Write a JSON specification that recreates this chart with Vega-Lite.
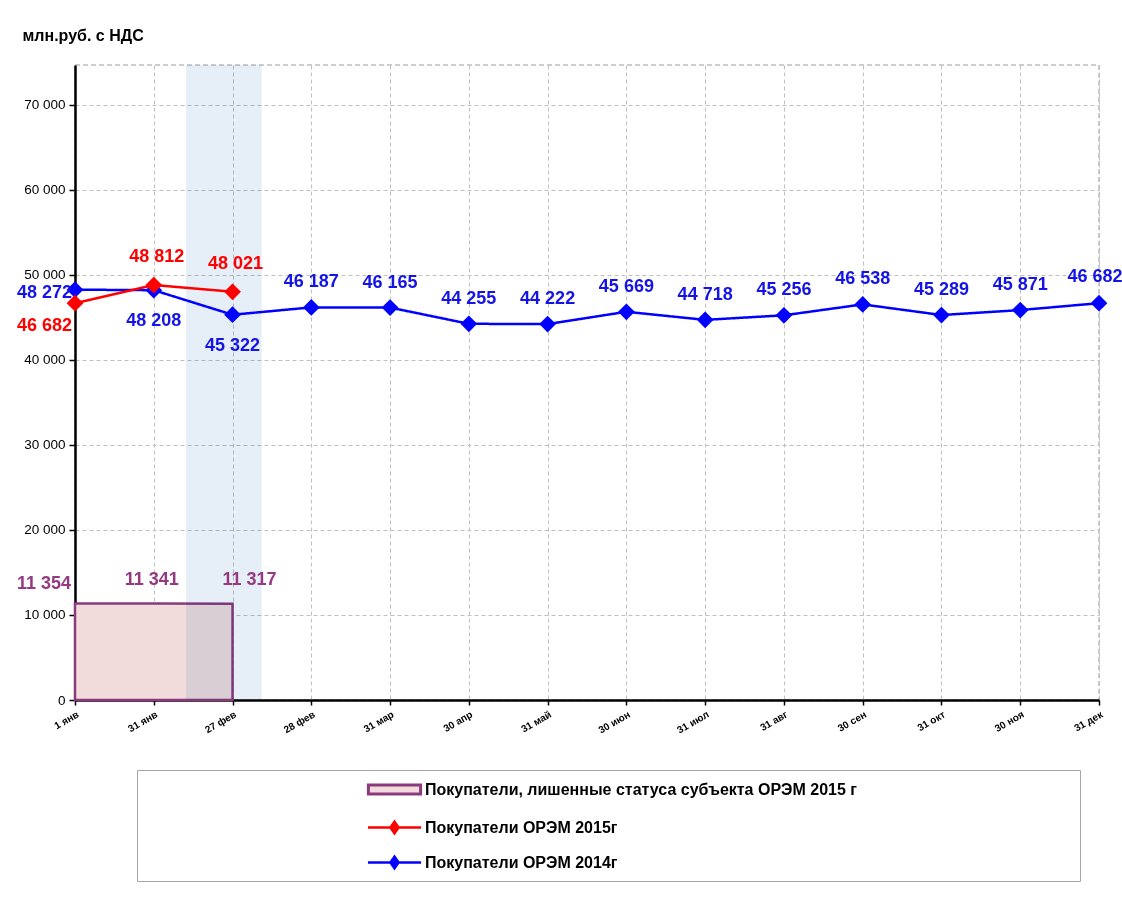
{
  "$schema": "https://vega.github.io/schema/vega-lite/v6.json",
  "width": 1024,
  "height": 635,
  "autosize": {"type": "none"},
  "padding": {"left": 75, "top": 65, "right": 23, "bottom": 202},
  "background": "white",
  "config": {
    "locale": {"number": {"decimal": ",", "thousands": " ", "grouping": [3], "currency": ["", ""]}},
    "view": {"stroke": "#bdbdbd", "strokeDash": [5, 3], "strokeWidth": 1.5},
    "axis": {"gridColor": "#c0c0c0", "gridDash": [4, 3], "gridWidth": 1, "domainColor": "black", "domainWidth": 2.5, "tickColor": "black", "tickWidth": 1.5},
    "legend": {
      "title": null, "orient": "none", "padding": 9, "symbolSize": 324, "symbolOffset": 238, "labelOffset": 20,
      "labelFont": "Liberation Sans", "labelFontWeight": "bold", "labelFontSize": 16, "labelColor": "black", "labelLimit": 600,
      "symbolOpacity": 1
    }
  },
  "datasets": {
    "s2014": [
      {"i": 0, "v": 48272, "series": "Покупатели ОРЭМ 2014г"},
      {"i": 1, "v": 48208, "series": "Покупатели ОРЭМ 2014г"},
      {"i": 2, "v": 45322, "series": "Покупатели ОРЭМ 2014г"},
      {"i": 3, "v": 46187, "series": "Покупатели ОРЭМ 2014г"},
      {"i": 4, "v": 46165, "series": "Покупатели ОРЭМ 2014г"},
      {"i": 5, "v": 44255, "series": "Покупатели ОРЭМ 2014г"},
      {"i": 6, "v": 44222, "series": "Покупатели ОРЭМ 2014г"},
      {"i": 7, "v": 45669, "series": "Покупатели ОРЭМ 2014г"},
      {"i": 8, "v": 44718, "series": "Покупатели ОРЭМ 2014г"},
      {"i": 9, "v": 45256, "series": "Покупатели ОРЭМ 2014г"},
      {"i": 10, "v": 46538, "series": "Покупатели ОРЭМ 2014г"},
      {"i": 11, "v": 45289, "series": "Покупатели ОРЭМ 2014г"},
      {"i": 12, "v": 45871, "series": "Покупатели ОРЭМ 2014г"},
      {"i": 13, "v": 46682, "series": "Покупатели ОРЭМ 2014г"}
    ],
    "s2015": [
      {"i": 0, "v": 46682, "series": "Покупатели ОРЭМ 2015г"},
      {"i": 1, "v": 48812, "series": "Покупатели ОРЭМ 2015г"},
      {"i": 2, "v": 48021, "series": "Покупатели ОРЭМ 2015г"}
    ],
    "lost": [
      {"i": 0, "v": 11354, "series": "Покупатели, лишенные статуса субъекта ОРЭМ 2015 г"},
      {"i": 1, "v": 11341, "series": "Покупатели, лишенные статуса субъекта ОРЭМ 2015 г"},
      {"i": 2, "v": 11317, "series": "Покупатели, лишенные статуса субъекта ОРЭМ 2015 г"}
    ],
    "band": [{"start": 1.41, "end": 2.37}]
  },
  "layer": [
    {
      "data": {"name": "lost"},
      "mark": {"type": "area", "stroke": "#8b3a7e", "strokeWidth": 2.5, "opacity": 1},
      "encoding": {
        "x": {
          "field": "i", "type": "quantitative",
          "scale": {"domain": [0, 13], "nice": false, "zero": false},
          "axis": {
            "values": [0,1,2,3,4,5,6,7,8,9,10,11,12,13],
            "labelExpr": "['1 янв','31 янв','27 фев','28 фев','31 мар','30 апр','31 май','30 июн','31 июл','31 авг','30 сен','31 окт','30 ноя','31 дек'][datum.value]",
            "title": null, "grid": true, "tickSize": 5,
            "labelAngle": -30, "labelAlign": "right", "labelBaseline": "top",
            "labelFont": "Liberation Sans", "labelFontWeight": "bold", "labelFontSize": 10, "labelColor": "black",
            "labelPadding": 4, "labelFlush": false, "labelOverlap": false
          }
        },
        "y": {
          "field": "v", "type": "quantitative",
          "scale": {"domain": [0, 74700], "nice": false},
          "axis": {
            "values": [0,10000,20000,30000,40000,50000,60000,70000],
            "format": ",d", "grid": true, "tickSize": 6,
            "labelFont": "Liberation Sans", "labelFontSize": 13.5, "labelColor": "black", "labelPadding": 4,
            "title": "млн.руб. с НДС", "titleAngle": 0, "titleX": -53, "titleY": -30,
            "titleAlign": "left", "titleBaseline": "middle",
            "titleFont": "Liberation Sans", "titleFontWeight": "bold", "titleFontSize": 16, "titleColor": "black"
          }
        },
        "fill": {
          "field": "series", "type": "nominal",
          "scale": {"domain": ["Покупатели, лишенные статуса субъекта ОРЭМ 2015 г"], "range": ["#f2dcdb"]},
          "legend": {
            "legendX": 62, "legendY": 705, "strokeColor": "#a6a6a6",
            "symbolType": "M-2.9,-0.5H2.9V0.5H-2.9ZM74.45,8.45",
            "symbolStrokeColor": "#8b3a7e", "symbolStrokeWidth": 3
          }
        }
      }
    },
    {
      "data": {"name": "band"},
      "mark": {"type": "rect", "color": "#e6eff8", "blend": "multiply"},
      "encoding": {
        "x": {"field": "start", "type": "quantitative"},
        "x2": {"field": "end"},
        "y": {"datum": 0, "type": "quantitative"},
        "y2": {"datum": 74700}
      }
    },
    {
      "data": {"name": "s2014"},
      "mark": {"type": "line", "strokeWidth": 2.5, "color": "#0000ff"},
      "encoding": {
        "x": {"field": "i", "type": "quantitative"},
        "y": {"field": "v", "type": "quantitative"},
        "strokeDash": {
          "field": "series", "type": "nominal",
          "scale": {"domain": ["Покупатели ОРЭМ 2014г"], "range": [[1, 0]]},
          "legend": {
            "legendX": 62, "legendY": 778,
            "symbolType": "M-2.95,0H2.95M0,-0.65L0.45,0L0,0.65L-0.45,0Z",
            "symbolStrokeColor": "#0000ff", "symbolFillColor": "#0000ff", "symbolStrokeWidth": 2.5
          }
        }
      }
    },
    {
      "data": {"name": "s2014"},
      "mark": {"type": "point", "shape": "diamond", "filled": true, "size": 280, "opacity": 1, "color": "#0000ff"},
      "encoding": {
        "x": {"field": "i", "type": "quantitative"},
        "y": {"field": "v", "type": "quantitative"}
      }
    },
    {
      "data": {"name": "s2015"},
      "mark": {"type": "line", "strokeWidth": 2.5},
      "encoding": {
        "x": {"field": "i", "type": "quantitative"},
        "y": {"field": "v", "type": "quantitative"},
        "stroke": {
          "field": "series", "type": "nominal",
          "scale": {"domain": ["Покупатели ОРЭМ 2015г"], "range": ["#ff0000"]},
          "legend": {
            "legendX": 62, "legendY": 743,
            "symbolType": "M-2.95,0H2.95M0,-0.65L0.45,0L0,0.65L-0.45,0Z",
            "symbolFillColor": "#ff0000", "symbolStrokeWidth": 2.5
          }
        }
      }
    },
    {
      "data": {"name": "s2015"},
      "mark": {"type": "point", "shape": "diamond", "filled": true, "size": 280, "opacity": 1, "color": "#ff0000"},
      "encoding": {
        "x": {"field": "i", "type": "quantitative"},
        "y": {"field": "v", "type": "quantitative"}
      }
    },
    {
      "data": {"name": "s2014"},
      "transform": [{"filter": "datum.i >= 3 && datum.i <= 12"}],
      "mark": {"type": "text", "font": "Liberation Sans", "fontWeight": "bold", "fontSize": 18, "color": "#1414e6", "dy": -25, "align": "center", "baseline": "middle"},
      "encoding": {"x": {"field": "i", "type": "quantitative"}, "y": {"field": "v", "type": "quantitative"}, "text": {"field": "v", "format": ",d"}}
    },
    {
      "data": {"name": "s2014"},
      "transform": [{"filter": "datum.i == 13"}],
      "mark": {"type": "text", "font": "Liberation Sans", "fontWeight": "bold", "fontSize": 18, "color": "#1414e6", "dx": -4, "dy": -26, "align": "center", "baseline": "middle"},
      "encoding": {"x": {"field": "i", "type": "quantitative"}, "y": {"field": "v", "type": "quantitative"}, "text": {"field": "v", "format": ",d"}}
    },
    {
      "data": {"name": "s2014"},
      "transform": [{"filter": "datum.i == 1 || datum.i == 2"}],
      "mark": {"type": "text", "font": "Liberation Sans", "fontWeight": "bold", "fontSize": 18, "color": "#1414e6", "dy": 31, "align": "center", "baseline": "middle"},
      "encoding": {"x": {"field": "i", "type": "quantitative"}, "y": {"field": "v", "type": "quantitative"}, "text": {"field": "v", "format": ",d"}}
    },
    {
      "data": {"name": "s2014"},
      "transform": [{"filter": "datum.i == 0"}],
      "mark": {"type": "text", "font": "Liberation Sans", "fontWeight": "bold", "fontSize": 18, "color": "#1414e6", "dx": -3, "dy": 3, "align": "right", "baseline": "middle"},
      "encoding": {"x": {"field": "i", "type": "quantitative"}, "y": {"field": "v", "type": "quantitative"}, "text": {"field": "v", "format": ",d"}}
    },
    {
      "data": {"name": "s2015"},
      "transform": [{"filter": "datum.i == 0"}],
      "mark": {"type": "text", "font": "Liberation Sans", "fontWeight": "bold", "fontSize": 18, "color": "#ff0000", "dx": -3, "dy": 23, "align": "right", "baseline": "middle"},
      "encoding": {"x": {"field": "i", "type": "quantitative"}, "y": {"field": "v", "type": "quantitative"}, "text": {"field": "v", "format": ",d"}}
    },
    {
      "data": {"name": "s2015"},
      "transform": [{"filter": "datum.i >= 1"}],
      "mark": {"type": "text", "font": "Liberation Sans", "fontWeight": "bold", "fontSize": 18, "color": "#ff0000", "dx": 3, "dy": -28, "align": "center", "baseline": "middle"},
      "encoding": {"x": {"field": "i", "type": "quantitative"}, "y": {"field": "v", "type": "quantitative"}, "text": {"field": "v", "format": ",d"}}
    },
    {
      "data": {"name": "lost"},
      "transform": [{"filter": "datum.i == 0"}],
      "mark": {"type": "text", "font": "Liberation Sans", "fontWeight": "bold", "fontSize": 18, "color": "#953a80", "dx": -4, "dy": -19, "align": "right", "baseline": "middle"},
      "encoding": {"x": {"field": "i", "type": "quantitative"}, "y": {"field": "v", "type": "quantitative"}, "text": {"field": "v", "format": ",d"}}
    },
    {
      "data": {"name": "lost"},
      "transform": [{"filter": "datum.i == 1"}],
      "mark": {"type": "text", "font": "Liberation Sans", "fontWeight": "bold", "fontSize": 18, "color": "#953a80", "dx": -2, "dy": -24, "align": "center", "baseline": "middle"},
      "encoding": {"x": {"field": "i", "type": "quantitative"}, "y": {"field": "v", "type": "quantitative"}, "text": {"field": "v", "format": ",d"}}
    },
    {
      "data": {"name": "lost"},
      "transform": [{"filter": "datum.i == 2"}],
      "mark": {"type": "text", "font": "Liberation Sans", "fontWeight": "bold", "fontSize": 18, "color": "#953a80", "dx": 17, "dy": -24, "align": "center", "baseline": "middle"},
      "encoding": {"x": {"field": "i", "type": "quantitative"}, "y": {"field": "v", "type": "quantitative"}, "text": {"field": "v", "format": ",d"}}
    }
  ]
}
